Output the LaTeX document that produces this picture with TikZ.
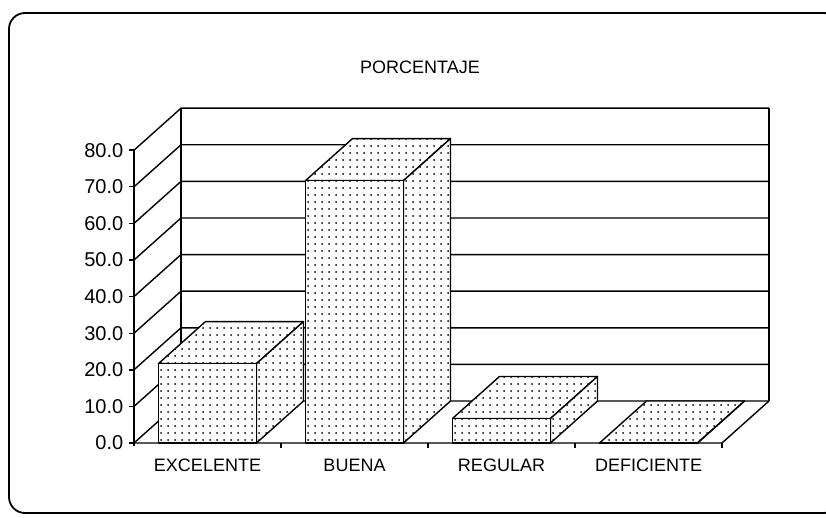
\documentclass[tikz,border=0pt]{standalone}
\usepackage{fontspec}
\setmainfont{Liberation Sans}
\usetikzlibrary{patterns.meta}

\newcommand{\depthx}{47}
\newcommand{\depthy}{42}
\newcommand{\unitv}{3.66}

\begin{document}
\begin{tikzpicture}[x=1pt, y=1pt, line width=1.4pt, line join=round,
    dotted face/.style={fill=white, postaction={pattern={Dots[radius=1pt, distance=7pt]}}},
    axis label/.style={anchor=east, inner sep=0pt, font=\fontsize{20}{23}\selectfont},
    cat label/.style={inner sep=0pt, font=\fontsize{18}{21}\selectfont}]
  \useasboundingbox (0,0) rectangle (826,517);
  \draw[line width=1.8pt, rounded corners=16pt] (9,4) rectangle (840,504);
  \node[cat label] (title) at (420,450) {PORCENTAJE};
  \begin{scope}[shift={(134,74)}]
    \draw (\depthx,\depthy) -- ++(0,80*\unitv) (588+\depthx,\depthy) -- ++(0,80*\unitv);
    \draw (0,-3) -- (0,80*\unitv);
    \foreach \v in {0,10,...,80} {
      \draw (0,\v*\unitv) -- ++(\depthx,\depthy) -- ++(588,0);
      \draw (-5,\v*\unitv) -- (0,\v*\unitv);
      \node[axis label] (tick\v) at (-10,\v*\unitv) {\v.0};
    }
    \draw (0,0) -- (588,0) -- ++(\depthx,\depthy);
    \foreach \i/\v/\name in {0/21.7/EXCELENTE, 1/71.7/BUENA, 2/6.7/REGULAR, 3/0/DEFICIENTE} {
      \pgfmathsetmacro{\xa}{147*\i+24.5}
      \pgfmathsetmacro{\xb}{\xa+98}
      \pgfmathsetmacro{\hv}{\v*\unitv}
      \draw (147*\i+147,0) -- ++(0,-5);
      \draw[dotted face] (\xa,\hv) -- (\xb,\hv) -- ++(\depthx,\depthy) -- (\xa+\depthx,\hv+\depthy) -- cycle;
      \draw[dotted face] (\xb,0) -- (\xb,\hv) -- ++(\depthx,\depthy) -- (\xb+\depthx,\depthy) -- cycle;
      \draw[dotted face] (\xa,0) rectangle (\xb,\hv);
      \node[cat label] (cat\i) at (147*\i+73.5,-22) {\name};
    }
  \end{scope}
\end{tikzpicture}
\end{document}
